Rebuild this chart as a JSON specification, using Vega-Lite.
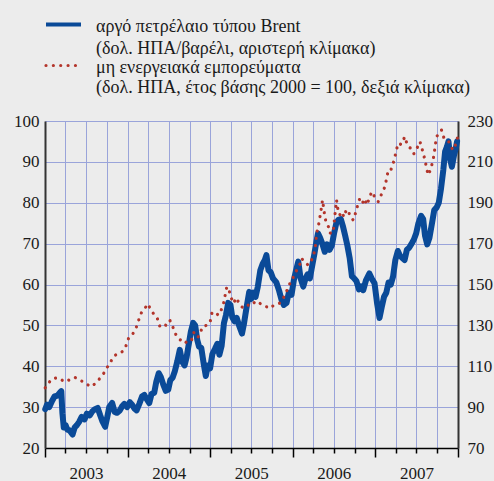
{
  "$schema": "https://vega.github.io/schema/vega-lite/v6.json",
  "width": 413,
  "height": 327,
  "autosize": {"type": "none"},
  "padding": {"left": 45, "top": 121, "right": 36, "bottom": 33},
  "background": "#ececec",
  "config": {
    "view": {"stroke": null},
    "font": "Liberation Serif",
    "axis": {"labelFont": "Liberation Serif", "labelFontSize": 17, "labelColor": "#1a1a1a", "title": null},
    "legend": {
      "orient": "none", "title": null, "symbolType": "stroke", "symbolSize": 1225,
      "labelFont": "Liberation Serif", "labelFontSize": 18, "labelColor": "#1a1a1a",
      "labelLimit": 500, "labelOffset": 13, "labelBaseline": "top"
    }
  },
  "datasets": {
    "brent": [
      {"date": "2003-01-02", "value": 29.5, "series": "Brent"},
      {"date": "2003-01-10", "value": 30.6, "series": "Brent"},
      {"date": "2003-01-20", "value": 30.0, "series": "Brent"},
      {"date": "2003-02-01", "value": 31.5, "series": "Brent"},
      {"date": "2003-02-12", "value": 32.6, "series": "Brent"},
      {"date": "2003-02-25", "value": 32.8, "series": "Brent"},
      {"date": "2003-03-07", "value": 33.5, "series": "Brent"},
      {"date": "2003-03-14", "value": 33.9, "series": "Brent"},
      {"date": "2003-03-19", "value": 28.5, "series": "Brent"},
      {"date": "2003-03-25", "value": 25.0, "series": "Brent"},
      {"date": "2003-04-02", "value": 25.6, "series": "Brent"},
      {"date": "2003-04-10", "value": 24.5, "series": "Brent"},
      {"date": "2003-04-20", "value": 24.3, "series": "Brent"},
      {"date": "2003-05-03", "value": 23.3, "series": "Brent"},
      {"date": "2003-05-12", "value": 25.0, "series": "Brent"},
      {"date": "2003-05-22", "value": 25.6, "series": "Brent"},
      {"date": "2003-06-01", "value": 26.4, "series": "Brent"},
      {"date": "2003-06-12", "value": 27.6, "series": "Brent"},
      {"date": "2003-06-25", "value": 27.0, "series": "Brent"},
      {"date": "2003-07-05", "value": 28.4, "series": "Brent"},
      {"date": "2003-07-18", "value": 28.0, "series": "Brent"},
      {"date": "2003-07-30", "value": 29.0, "series": "Brent"},
      {"date": "2003-08-10", "value": 29.5, "series": "Brent"},
      {"date": "2003-08-22", "value": 29.8, "series": "Brent"},
      {"date": "2003-09-02", "value": 28.0, "series": "Brent"},
      {"date": "2003-09-12", "value": 26.5, "series": "Brent"},
      {"date": "2003-09-24", "value": 25.2, "series": "Brent"},
      {"date": "2003-10-03", "value": 27.5, "series": "Brent"},
      {"date": "2003-10-12", "value": 30.0, "series": "Brent"},
      {"date": "2003-10-25", "value": 31.0, "series": "Brent"},
      {"date": "2003-11-05", "value": 28.8, "series": "Brent"},
      {"date": "2003-11-15", "value": 28.6, "series": "Brent"},
      {"date": "2003-11-28", "value": 29.2, "series": "Brent"},
      {"date": "2003-12-08", "value": 30.2, "series": "Brent"},
      {"date": "2003-12-18", "value": 30.8, "series": "Brent"},
      {"date": "2003-12-30", "value": 30.0, "series": "Brent"},
      {"date": "2004-01-11", "value": 31.2, "series": "Brent"},
      {"date": "2004-01-22", "value": 30.5, "series": "Brent"},
      {"date": "2004-02-01", "value": 29.6, "series": "Brent"},
      {"date": "2004-02-10", "value": 29.2, "series": "Brent"},
      {"date": "2004-02-22", "value": 30.8, "series": "Brent"},
      {"date": "2004-03-05", "value": 32.6, "series": "Brent"},
      {"date": "2004-03-15", "value": 33.0, "series": "Brent"},
      {"date": "2004-03-25", "value": 32.0, "series": "Brent"},
      {"date": "2004-04-06", "value": 31.0, "series": "Brent"},
      {"date": "2004-04-16", "value": 33.2, "series": "Brent"},
      {"date": "2004-04-28", "value": 33.5, "series": "Brent"},
      {"date": "2004-05-07", "value": 36.2, "series": "Brent"},
      {"date": "2004-05-18", "value": 38.3, "series": "Brent"},
      {"date": "2004-05-27", "value": 37.4, "series": "Brent"},
      {"date": "2004-06-07", "value": 35.5, "series": "Brent"},
      {"date": "2004-06-18", "value": 34.0, "series": "Brent"},
      {"date": "2004-06-29", "value": 34.3, "series": "Brent"},
      {"date": "2004-07-08", "value": 36.6, "series": "Brent"},
      {"date": "2004-07-18", "value": 37.2, "series": "Brent"},
      {"date": "2004-07-28", "value": 38.8, "series": "Brent"},
      {"date": "2004-08-08", "value": 41.2, "series": "Brent"},
      {"date": "2004-08-19", "value": 44.0, "series": "Brent"},
      {"date": "2004-08-29", "value": 41.2, "series": "Brent"},
      {"date": "2004-09-09", "value": 40.2, "series": "Brent"},
      {"date": "2004-09-18", "value": 42.2, "series": "Brent"},
      {"date": "2004-09-28", "value": 45.5, "series": "Brent"},
      {"date": "2004-10-07", "value": 48.5, "series": "Brent"},
      {"date": "2004-10-17", "value": 50.6, "series": "Brent"},
      {"date": "2004-10-26", "value": 50.0, "series": "Brent"},
      {"date": "2004-11-04", "value": 46.5, "series": "Brent"},
      {"date": "2004-11-12", "value": 44.8, "series": "Brent"},
      {"date": "2004-11-22", "value": 44.5, "series": "Brent"},
      {"date": "2004-12-03", "value": 40.5, "series": "Brent"},
      {"date": "2004-12-12", "value": 37.6, "series": "Brent"},
      {"date": "2004-12-21", "value": 40.2, "series": "Brent"},
      {"date": "2004-12-31", "value": 39.5, "series": "Brent"},
      {"date": "2005-01-10", "value": 43.0, "series": "Brent"},
      {"date": "2005-01-21", "value": 44.2, "series": "Brent"},
      {"date": "2005-02-01", "value": 45.5, "series": "Brent"},
      {"date": "2005-02-10", "value": 42.8, "series": "Brent"},
      {"date": "2005-02-20", "value": 45.0, "series": "Brent"},
      {"date": "2005-03-02", "value": 50.5, "series": "Brent"},
      {"date": "2005-03-11", "value": 52.5, "series": "Brent"},
      {"date": "2005-03-21", "value": 55.5, "series": "Brent"},
      {"date": "2005-03-31", "value": 55.0, "series": "Brent"},
      {"date": "2005-04-08", "value": 52.0, "series": "Brent"},
      {"date": "2005-04-18", "value": 51.0, "series": "Brent"},
      {"date": "2005-04-28", "value": 51.8, "series": "Brent"},
      {"date": "2005-05-08", "value": 50.0, "series": "Brent"},
      {"date": "2005-05-21", "value": 48.0, "series": "Brent"},
      {"date": "2005-05-30", "value": 50.5, "series": "Brent"},
      {"date": "2005-06-09", "value": 54.0, "series": "Brent"},
      {"date": "2005-06-22", "value": 58.2, "series": "Brent"},
      {"date": "2005-07-01", "value": 56.5, "series": "Brent"},
      {"date": "2005-07-10", "value": 58.0, "series": "Brent"},
      {"date": "2005-07-20", "value": 57.0, "series": "Brent"},
      {"date": "2005-07-30", "value": 59.5, "series": "Brent"},
      {"date": "2005-08-10", "value": 63.5, "series": "Brent"},
      {"date": "2005-08-20", "value": 65.0, "series": "Brent"},
      {"date": "2005-08-30", "value": 66.0, "series": "Brent"},
      {"date": "2005-09-06", "value": 67.2, "series": "Brent"},
      {"date": "2005-09-15", "value": 63.5, "series": "Brent"},
      {"date": "2005-09-25", "value": 63.0, "series": "Brent"},
      {"date": "2005-10-05", "value": 61.5, "series": "Brent"},
      {"date": "2005-10-20", "value": 60.5, "series": "Brent"},
      {"date": "2005-11-01", "value": 58.5, "series": "Brent"},
      {"date": "2005-11-12", "value": 56.2, "series": "Brent"},
      {"date": "2005-11-22", "value": 55.0, "series": "Brent"},
      {"date": "2005-12-04", "value": 55.5, "series": "Brent"},
      {"date": "2005-12-14", "value": 58.0, "series": "Brent"},
      {"date": "2005-12-26", "value": 57.5, "series": "Brent"},
      {"date": "2006-01-05", "value": 61.0, "series": "Brent"},
      {"date": "2006-01-15", "value": 63.5, "series": "Brent"},
      {"date": "2006-01-25", "value": 65.6, "series": "Brent"},
      {"date": "2006-02-04", "value": 61.5, "series": "Brent"},
      {"date": "2006-02-16", "value": 59.5, "series": "Brent"},
      {"date": "2006-02-26", "value": 61.5, "series": "Brent"},
      {"date": "2006-03-07", "value": 62.5, "series": "Brent"},
      {"date": "2006-03-17", "value": 61.5, "series": "Brent"},
      {"date": "2006-03-27", "value": 64.5, "series": "Brent"},
      {"date": "2006-04-06", "value": 67.5, "series": "Brent"},
      {"date": "2006-04-15", "value": 70.5, "series": "Brent"},
      {"date": "2006-04-22", "value": 72.5, "series": "Brent"},
      {"date": "2006-05-01", "value": 71.5, "series": "Brent"},
      {"date": "2006-05-11", "value": 70.0, "series": "Brent"},
      {"date": "2006-05-22", "value": 68.0, "series": "Brent"},
      {"date": "2006-06-01", "value": 69.8, "series": "Brent"},
      {"date": "2006-06-12", "value": 68.5, "series": "Brent"},
      {"date": "2006-06-22", "value": 69.5, "series": "Brent"},
      {"date": "2006-07-02", "value": 72.5, "series": "Brent"},
      {"date": "2006-07-12", "value": 75.0, "series": "Brent"},
      {"date": "2006-07-21", "value": 75.8, "series": "Brent"},
      {"date": "2006-08-01", "value": 76.0, "series": "Brent"},
      {"date": "2006-08-10", "value": 74.3, "series": "Brent"},
      {"date": "2006-08-20", "value": 72.0, "series": "Brent"},
      {"date": "2006-08-30", "value": 69.5, "series": "Brent"},
      {"date": "2006-09-09", "value": 66.5, "series": "Brent"},
      {"date": "2006-09-19", "value": 62.0, "series": "Brent"},
      {"date": "2006-09-29", "value": 61.5, "series": "Brent"},
      {"date": "2006-10-09", "value": 60.8, "series": "Brent"},
      {"date": "2006-10-20", "value": 58.8, "series": "Brent"},
      {"date": "2006-10-30", "value": 59.5, "series": "Brent"},
      {"date": "2006-11-08", "value": 58.6, "series": "Brent"},
      {"date": "2006-11-20", "value": 61.0, "series": "Brent"},
      {"date": "2006-12-05", "value": 62.7, "series": "Brent"},
      {"date": "2006-12-15", "value": 61.5, "series": "Brent"},
      {"date": "2006-12-28", "value": 60.3, "series": "Brent"},
      {"date": "2007-01-08", "value": 55.5, "series": "Brent"},
      {"date": "2007-01-19", "value": 51.8, "series": "Brent"},
      {"date": "2007-01-29", "value": 54.5, "series": "Brent"},
      {"date": "2007-02-08", "value": 57.0, "series": "Brent"},
      {"date": "2007-02-18", "value": 58.0, "series": "Brent"},
      {"date": "2007-02-28", "value": 60.5, "series": "Brent"},
      {"date": "2007-03-10", "value": 60.0, "series": "Brent"},
      {"date": "2007-03-20", "value": 62.0, "series": "Brent"},
      {"date": "2007-03-30", "value": 66.0, "series": "Brent"},
      {"date": "2007-04-10", "value": 68.2, "series": "Brent"},
      {"date": "2007-04-20", "value": 67.0, "series": "Brent"},
      {"date": "2007-04-30", "value": 66.5, "series": "Brent"},
      {"date": "2007-05-10", "value": 66.0, "series": "Brent"},
      {"date": "2007-05-20", "value": 68.5, "series": "Brent"},
      {"date": "2007-05-30", "value": 69.0, "series": "Brent"},
      {"date": "2007-06-10", "value": 70.0, "series": "Brent"},
      {"date": "2007-06-20", "value": 71.0, "series": "Brent"},
      {"date": "2007-06-30", "value": 72.5, "series": "Brent"},
      {"date": "2007-07-10", "value": 75.0, "series": "Brent"},
      {"date": "2007-07-22", "value": 76.8, "series": "Brent"},
      {"date": "2007-07-31", "value": 76.0, "series": "Brent"},
      {"date": "2007-08-08", "value": 72.0, "series": "Brent"},
      {"date": "2007-08-18", "value": 69.8, "series": "Brent"},
      {"date": "2007-08-28", "value": 71.5, "series": "Brent"},
      {"date": "2007-09-08", "value": 75.0, "series": "Brent"},
      {"date": "2007-09-18", "value": 78.2, "series": "Brent"},
      {"date": "2007-09-28", "value": 78.8, "series": "Brent"},
      {"date": "2007-10-08", "value": 80.0, "series": "Brent"},
      {"date": "2007-10-18", "value": 83.5, "series": "Brent"},
      {"date": "2007-10-28", "value": 88.0, "series": "Brent"},
      {"date": "2007-11-05", "value": 92.5, "series": "Brent"},
      {"date": "2007-11-13", "value": 93.7, "series": "Brent"},
      {"date": "2007-11-20", "value": 95.0, "series": "Brent"},
      {"date": "2007-11-28", "value": 90.5, "series": "Brent"},
      {"date": "2007-12-05", "value": 88.8, "series": "Brent"},
      {"date": "2007-12-14", "value": 91.5, "series": "Brent"},
      {"date": "2007-12-21", "value": 93.0, "series": "Brent"},
      {"date": "2007-12-28", "value": 95.0, "series": "Brent"}
    ],
    "nonenergy": [
      {"date": "2003-01-02", "value": 99.5, "series": "NonEnergy"},
      {"date": "2003-01-10", "value": 100.5, "series": "NonEnergy"},
      {"date": "2003-01-25", "value": 103.0, "series": "NonEnergy"},
      {"date": "2003-02-07", "value": 104.1, "series": "NonEnergy"},
      {"date": "2003-02-25", "value": 104.3, "series": "NonEnergy"},
      {"date": "2003-03-08", "value": 104.0, "series": "NonEnergy"},
      {"date": "2003-03-20", "value": 103.0, "series": "NonEnergy"},
      {"date": "2003-04-06", "value": 102.4, "series": "NonEnergy"},
      {"date": "2003-04-20", "value": 103.5, "series": "NonEnergy"},
      {"date": "2003-05-13", "value": 104.6, "series": "NonEnergy"},
      {"date": "2003-05-30", "value": 103.5, "series": "NonEnergy"},
      {"date": "2003-06-19", "value": 102.4, "series": "NonEnergy"},
      {"date": "2003-07-11", "value": 100.8, "series": "NonEnergy"},
      {"date": "2003-07-26", "value": 100.0, "series": "NonEnergy"},
      {"date": "2003-08-10", "value": 101.5, "series": "NonEnergy"},
      {"date": "2003-09-01", "value": 104.1, "series": "NonEnergy"},
      {"date": "2003-09-15", "value": 106.0, "series": "NonEnergy"},
      {"date": "2003-09-30", "value": 109.0, "series": "NonEnergy"},
      {"date": "2003-10-15", "value": 111.4, "series": "NonEnergy"},
      {"date": "2003-10-30", "value": 114.7, "series": "NonEnergy"},
      {"date": "2003-11-15", "value": 116.0, "series": "NonEnergy"},
      {"date": "2003-11-28", "value": 116.3, "series": "NonEnergy"},
      {"date": "2003-12-13", "value": 117.5, "series": "NonEnergy"},
      {"date": "2003-12-25", "value": 120.0, "series": "NonEnergy"},
      {"date": "2004-01-08", "value": 124.5, "series": "NonEnergy"},
      {"date": "2004-01-25", "value": 126.0, "series": "NonEnergy"},
      {"date": "2004-02-10", "value": 129.4, "series": "NonEnergy"},
      {"date": "2004-02-22", "value": 133.5, "series": "NonEnergy"},
      {"date": "2004-03-05", "value": 137.0, "series": "NonEnergy"},
      {"date": "2004-03-18", "value": 138.5, "series": "NonEnergy"},
      {"date": "2004-04-01", "value": 140.5, "series": "NonEnergy"},
      {"date": "2004-04-12", "value": 137.5, "series": "NonEnergy"},
      {"date": "2004-04-30", "value": 135.1, "series": "NonEnergy"},
      {"date": "2004-05-10", "value": 134.0, "series": "NonEnergy"},
      {"date": "2004-05-23", "value": 129.4, "series": "NonEnergy"},
      {"date": "2004-06-05", "value": 130.5, "series": "NonEnergy"},
      {"date": "2004-06-20", "value": 130.0, "series": "NonEnergy"},
      {"date": "2004-07-06", "value": 132.5, "series": "NonEnergy"},
      {"date": "2004-07-20", "value": 129.0, "series": "NonEnergy"},
      {"date": "2004-08-05", "value": 124.5, "series": "NonEnergy"},
      {"date": "2004-08-20", "value": 123.0, "series": "NonEnergy"},
      {"date": "2004-09-11", "value": 121.2, "series": "NonEnergy"},
      {"date": "2004-09-25", "value": 123.0, "series": "NonEnergy"},
      {"date": "2004-10-10", "value": 122.8, "series": "NonEnergy"},
      {"date": "2004-10-20", "value": 126.5, "series": "NonEnergy"},
      {"date": "2004-11-05", "value": 124.0, "series": "NonEnergy"},
      {"date": "2004-11-15", "value": 125.3, "series": "NonEnergy"},
      {"date": "2004-11-27", "value": 129.4, "series": "NonEnergy"},
      {"date": "2004-12-15", "value": 130.0, "series": "NonEnergy"},
      {"date": "2004-12-30", "value": 131.0, "series": "NonEnergy"},
      {"date": "2005-01-08", "value": 136.0, "series": "NonEnergy"},
      {"date": "2005-01-20", "value": 136.7, "series": "NonEnergy"},
      {"date": "2005-02-05", "value": 135.0, "series": "NonEnergy"},
      {"date": "2005-02-15", "value": 136.5, "series": "NonEnergy"},
      {"date": "2005-03-01", "value": 141.0, "series": "NonEnergy"},
      {"date": "2005-03-08", "value": 145.0, "series": "NonEnergy"},
      {"date": "2005-03-15", "value": 148.9, "series": "NonEnergy"},
      {"date": "2005-03-25", "value": 147.0, "series": "NonEnergy"},
      {"date": "2005-04-05", "value": 143.0, "series": "NonEnergy"},
      {"date": "2005-04-14", "value": 140.8, "series": "NonEnergy"},
      {"date": "2005-04-25", "value": 143.5, "series": "NonEnergy"},
      {"date": "2005-05-10", "value": 140.5, "series": "NonEnergy"},
      {"date": "2005-05-20", "value": 139.0, "series": "NonEnergy"},
      {"date": "2005-06-05", "value": 138.5, "series": "NonEnergy"},
      {"date": "2005-06-25", "value": 140.8, "series": "NonEnergy"},
      {"date": "2005-07-10", "value": 141.5, "series": "NonEnergy"},
      {"date": "2005-07-25", "value": 140.0, "series": "NonEnergy"},
      {"date": "2005-08-08", "value": 140.8, "series": "NonEnergy"},
      {"date": "2005-08-25", "value": 139.5, "series": "NonEnergy"},
      {"date": "2005-09-10", "value": 139.0, "series": "NonEnergy"},
      {"date": "2005-09-21", "value": 138.3, "series": "NonEnergy"},
      {"date": "2005-10-05", "value": 139.5, "series": "NonEnergy"},
      {"date": "2005-10-21", "value": 140.0, "series": "NonEnergy"},
      {"date": "2005-11-05", "value": 141.0, "series": "NonEnergy"},
      {"date": "2005-11-19", "value": 143.2, "series": "NonEnergy"},
      {"date": "2005-12-05", "value": 147.0, "series": "NonEnergy"},
      {"date": "2005-12-19", "value": 150.6, "series": "NonEnergy"},
      {"date": "2006-01-05", "value": 154.0, "series": "NonEnergy"},
      {"date": "2006-01-18", "value": 157.1, "series": "NonEnergy"},
      {"date": "2006-02-01", "value": 160.0, "series": "NonEnergy"},
      {"date": "2006-02-09", "value": 162.8, "series": "NonEnergy"},
      {"date": "2006-02-20", "value": 161.0, "series": "NonEnergy"},
      {"date": "2006-03-10", "value": 159.5, "series": "NonEnergy"},
      {"date": "2006-03-20", "value": 161.0, "series": "NonEnergy"},
      {"date": "2006-04-01", "value": 163.6, "series": "NonEnergy"},
      {"date": "2006-04-10", "value": 168.0, "series": "NonEnergy"},
      {"date": "2006-04-16", "value": 175.0, "series": "NonEnergy"},
      {"date": "2006-04-26", "value": 180.0, "series": "NonEnergy"},
      {"date": "2006-05-05", "value": 186.0, "series": "NonEnergy"},
      {"date": "2006-05-12", "value": 191.3, "series": "NonEnergy"},
      {"date": "2006-05-20", "value": 185.0, "series": "NonEnergy"},
      {"date": "2006-05-28", "value": 180.0, "series": "NonEnergy"},
      {"date": "2006-06-07", "value": 178.3, "series": "NonEnergy"},
      {"date": "2006-06-15", "value": 175.0, "series": "NonEnergy"},
      {"date": "2006-06-22", "value": 177.0, "series": "NonEnergy"},
      {"date": "2006-06-29", "value": 176.7, "series": "NonEnergy"},
      {"date": "2006-07-05", "value": 183.0, "series": "NonEnergy"},
      {"date": "2006-07-13", "value": 191.3, "series": "NonEnergy"},
      {"date": "2006-07-20", "value": 186.0, "series": "NonEnergy"},
      {"date": "2006-07-27", "value": 184.0, "series": "NonEnergy"},
      {"date": "2006-08-04", "value": 185.6, "series": "NonEnergy"},
      {"date": "2006-08-15", "value": 183.0, "series": "NonEnergy"},
      {"date": "2006-08-25", "value": 186.5, "series": "NonEnergy"},
      {"date": "2006-09-02", "value": 186.4, "series": "NonEnergy"},
      {"date": "2006-09-12", "value": 183.0, "series": "NonEnergy"},
      {"date": "2006-09-25", "value": 181.5, "series": "NonEnergy"},
      {"date": "2006-10-05", "value": 185.0, "series": "NonEnergy"},
      {"date": "2006-10-15", "value": 189.0, "series": "NonEnergy"},
      {"date": "2006-10-24", "value": 192.2, "series": "NonEnergy"},
      {"date": "2006-11-05", "value": 190.0, "series": "NonEnergy"},
      {"date": "2006-11-15", "value": 192.0, "series": "NonEnergy"},
      {"date": "2006-11-23", "value": 188.9, "series": "NonEnergy"},
      {"date": "2006-12-05", "value": 192.0, "series": "NonEnergy"},
      {"date": "2006-12-15", "value": 195.4, "series": "NonEnergy"},
      {"date": "2006-12-28", "value": 193.0, "series": "NonEnergy"},
      {"date": "2007-01-13", "value": 190.5, "series": "NonEnergy"},
      {"date": "2007-01-25", "value": 193.5, "series": "NonEnergy"},
      {"date": "2007-02-05", "value": 196.0, "series": "NonEnergy"},
      {"date": "2007-02-12", "value": 197.9, "series": "NonEnergy"},
      {"date": "2007-02-27", "value": 206.0, "series": "NonEnergy"},
      {"date": "2007-03-10", "value": 206.0, "series": "NonEnergy"},
      {"date": "2007-03-20", "value": 209.0, "series": "NonEnergy"},
      {"date": "2007-03-28", "value": 212.5, "series": "NonEnergy"},
      {"date": "2007-04-11", "value": 219.1, "series": "NonEnergy"},
      {"date": "2007-04-25", "value": 218.5, "series": "NonEnergy"},
      {"date": "2007-05-11", "value": 222.3, "series": "NonEnergy"},
      {"date": "2007-05-20", "value": 219.0, "series": "NonEnergy"},
      {"date": "2007-05-30", "value": 217.0, "series": "NonEnergy"},
      {"date": "2007-06-10", "value": 216.6, "series": "NonEnergy"},
      {"date": "2007-06-20", "value": 214.0, "series": "NonEnergy"},
      {"date": "2007-07-05", "value": 217.0, "series": "NonEnergy"},
      {"date": "2007-07-17", "value": 219.9, "series": "NonEnergy"},
      {"date": "2007-07-27", "value": 216.0, "series": "NonEnergy"},
      {"date": "2007-08-08", "value": 210.9, "series": "NonEnergy"},
      {"date": "2007-08-15", "value": 207.0, "series": "NonEnergy"},
      {"date": "2007-08-22", "value": 203.6, "series": "NonEnergy"},
      {"date": "2007-09-01", "value": 206.0, "series": "NonEnergy"},
      {"date": "2007-09-13", "value": 210.9, "series": "NonEnergy"},
      {"date": "2007-09-20", "value": 216.0, "series": "NonEnergy"},
      {"date": "2007-09-28", "value": 222.3, "series": "NonEnergy"},
      {"date": "2007-10-10", "value": 224.0, "series": "NonEnergy"},
      {"date": "2007-10-20", "value": 225.6, "series": "NonEnergy"},
      {"date": "2007-10-30", "value": 222.0, "series": "NonEnergy"},
      {"date": "2007-11-10", "value": 221.0, "series": "NonEnergy"},
      {"date": "2007-11-18", "value": 220.7, "series": "NonEnergy"},
      {"date": "2007-11-28", "value": 218.0, "series": "NonEnergy"},
      {"date": "2007-12-10", "value": 215.8, "series": "NonEnergy"},
      {"date": "2007-12-18", "value": 217.0, "series": "NonEnergy"},
      {"date": "2007-12-25", "value": 220.7, "series": "NonEnergy"},
      {"date": "2007-12-31", "value": 222.0, "series": "NonEnergy"}
    ]
  },
  "layer": [
    {
      "data": {"name": "brent"},
      "mark": {"type": "line", "strokeWidth": 6, "strokeJoin": "round", "strokeCap": "round"},
      "encoding": {
        "x": {
          "field": "date", "type": "temporal",
          "scale": {"type": "utc", "domain": ["2003-01-01", "2008-01-01"], "nice": false},
          "axis": {
            "orient": "bottom",
            "grid": true, "gridColor": "#9aa4da", "gridWidth": 1,
            "tickCount": {"interval": "month", "step": 3},
            "domainColor": "#000000", "domainWidth": 1.5,
            "tickColor": "#000000", "tickWidth": 1.5,
            "tickSize": {"condition": {"test": "utcmonth(datum.value) == 0", "value": 9}, "value": 5},
            "labelExpr": "utcmonth(datum.value) == 6 ? utcFormat(datum.value, '%Y') : ''",
            "labelPadding": 12, "labelFlush": false, "labelOverlap": false, "labelBound": false
          }
        },
        "y": {
          "field": "value", "type": "quantitative",
          "scale": {"domain": [20, 100], "nice": false},
          "axis": {
            "orient": "left", "values": [20, 30, 40, 50, 60, 70, 80, 90, 100],
            "grid": true, "gridColor": "#9aa4da", "gridWidth": 1,
            "ticks": false, "domainColor": "#333333", "domainWidth": 2, "labelPadding": 6
          }
        },
        "color": {
          "field": "series", "type": "nominal",
          "scale": {"domain": ["Brent"], "range": ["#0a4a98"]},
          "legend": {
            "legendX": -1, "legendY": -116,
            "symbolStrokeWidth": 4,
            "labelExpr": "['αργό πετρέλαιο τύπου Brent', '(δολ. ΗΠΑ/βαρέλι, αριστερή κλίμακα)']",
            "encode": {
              "symbols": {"update": {"strokeCap": {"value": "butt"}, "strokeWidth": {"value": 4}}},
              "labels": {"update": {"lineHeight": {"value": 22}, "dy": {"value": -7}}}
            }
          }
        }
      }
    },
    {
      "data": {"name": "nonenergy"},
      "mark": {"type": "line", "strokeWidth": 3.2, "strokeDash": [0.01, 7.35], "strokeCap": "round"},
      "encoding": {
        "x": {"field": "date", "type": "temporal"},
        "y": {
          "field": "value", "type": "quantitative",
          "scale": {"domain": [70, 230], "nice": false},
          "axis": {
            "orient": "right", "values": [70, 90, 110, 130, 150, 170, 190, 210, 230],
            "grid": false, "ticks": false, "domainColor": "#333333", "domainWidth": 2, "labelPadding": 9
          }
        },
        "stroke": {
          "field": "series", "type": "nominal",
          "scale": {"domain": ["NonEnergy"], "range": ["#b3352b"]},
          "legend": {
            "legendX": -1, "legendY": -75,
            "labelExpr": "['μη ενεργειακά εμπορεύματα', '(δολ. ΗΠΑ, έτος βάσης 2000 = 100, δεξιά κλίμακα)']",
            "encode": {
              "symbols": {"update": {"strokeDash": {"value": [0.01, 7.35]}, "strokeCap": {"value": "round"}, "strokeWidth": {"value": 3.2}}},
              "labels": {"update": {"lineHeight": {"value": 20.5}, "dy": {"value": -7}}}
            }
          }
        }
      }
    }
  ],
  "resolve": {"scale": {"y": "independent"}}
}
